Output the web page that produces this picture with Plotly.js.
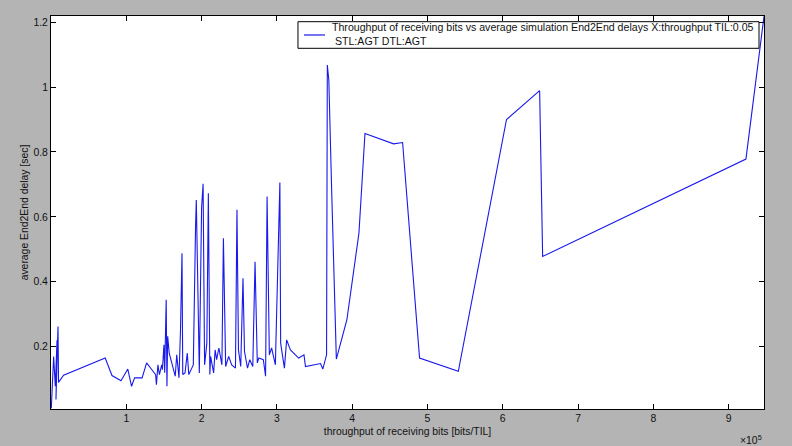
<!DOCTYPE html>
<html>
<head>
<meta charset="utf-8">
<script src="https://cdn.plot.ly/plotly-3.0.1.min.js"></script>
<style>html,body{margin:0;padding:0;background:#b4b4b4;}#chart{width:792px;height:446px;}</style>
</head>
<body>
<div id="chart"></div>
<script>
// throughput of receiving bits [bits/TIL]
const throughput = [
  400, 3500, 5700, 8000, 6600, 9300, 10000, 16700, 72000, 81000, 93000,
  102000, 107000, 111000, 121000, 127000, 134000, 139000, 140000, 142000, 144000,
  147000, 148000, 150000, 151000, 153000, 154000, 155000, 157000, 161000, 165000,
  167000, 170000, 172000, 174000, 175000, 178000, 181000, 183000, 187000, 189000,
  192000, 193000, 197000, 200000, 202000, 204000, 207000, 209000, 211000, 212000,
  216000, 218000, 220000, 223000, 227000, 229000, 232000, 236000, 240000, 245000,
  247000, 249000, 252000, 255000, 257000, 261000, 264000, 268000, 271000, 274000,
  276000, 282000, 285000, 287000, 290000, 293000, 298000, 304000, 305000, 310000,
  313000, 318000, 329000, 336000, 338000, 358000, 361000, 366000, 367000, 369000,
  373000, 375000, 379000, 393000, 409000, 417000, 455000, 467000, 489500, 541000,
  605000, 649000, 653000, 923000, 947000
];
// average End2End delay [sec]
const delay = [
  0.010, 0.170, 0.078, 0.220, 0.037, 0.262, 0.090, 0.112, 0.165, 0.111, 0.095,
  0.131, 0.078, 0.104, 0.104, 0.150, 0.129, 0.114, 0.083, 0.144, 0.114,
  0.144, 0.129, 0.206, 0.120, 0.345, 0.078, 0.232, 0.180, 0.144, 0.109,
  0.175, 0.104, 0.252, 0.488, 0.114, 0.119, 0.180, 0.114, 0.134, 0.144,
  0.570, 0.652, 0.119, 0.627, 0.702, 0.144, 0.211, 0.673, 0.114, 0.170,
  0.119, 0.190, 0.160, 0.196, 0.144, 0.534, 0.139, 0.170, 0.144, 0.134,
  0.622, 0.190, 0.139, 0.411, 0.185, 0.134, 0.160, 0.139, 0.462, 0.150,
  0.165, 0.160, 0.109, 0.663, 0.175, 0.196, 0.144, 0.706, 0.211, 0.134,
  0.221, 0.190, 0.165, 0.175, 0.139, 0.148, 0.131, 0.175, 1.068, 1.022,
  0.663, 0.478, 0.162, 0.283, 0.550, 0.857, 0.825, 0.829, 0.165, 0.124,
  0.900, 0.989, 0.478, 0.778, 1.218
];
const xTickVals = [100000, 200000, 300000, 400000, 500000, 600000, 700000, 800000, 900000];
const xTickText = ['1', '2', '3', '4', '5', '6', '7', '8', '9'];
const yTickVals = [0.2, 0.4, 0.6, 0.8, 1.0, 1.2];
const yTickText = ['0.2', '0.4', '0.6', '0.8', '1', '1.2'];
const legendLines = ['Throughput of receiving bits vs average simulation End2End delays X:throughput TIL:0.05', '&nbsp;STL:AGT DTL:AGT'];

const fam = 'Liberation Sans, Arial, Helvetica, sans-serif';
const font = {family: fam, size: 10.4, color: '#111'};
const lineColor = 'rgb(25,25,235)';

const trace = {
  x: throughput, y: delay, type: 'scatter', mode: 'lines',
  name: legendLines.join('<br>'),
  line: {color: lineColor, width: 1.1}
};

const axisCommon = {
  showgrid: false, zeroline: false, showline: true, linecolor: '#000', linewidth: 1,
  mirror: 'ticks', ticks: 'inside', ticklen: 5, tickcolor: '#000', tickwidth: 1,
  tickfont: font
};

// legend box geometry (paper fractions)
const lgX0 = 0.3464, lgX1 = 0.993, lgY0 = 0.9178, lgY1 = 0.9855, lgYm = 0.9517;

const layout = {
  width: 792, height: 446,
  margin: {l: 51, r: 28, t: 16, b: 37, pad: 0},
  paper_bgcolor: '#b4b4b4', plot_bgcolor: '#ffffff',
  font: font,
  showlegend: false,
  xaxis: Object.assign({}, axisCommon, {
    range: [0, 947000], tickvals: xTickVals, ticktext: xTickText,
    title: {text: 'throughput of receiving bits [bits/TIL]', font: font, standoff: 4}
  }),
  yaxis: Object.assign({}, axisCommon, {
    range: [0.008, 1.219], tickvals: yTickVals, ticktext: yTickText,
    title: {text: 'average End2End delay [sec]', font: font, standoff: 2}
  }),
  shapes: [
    {type: 'rect', xref: 'paper', yref: 'paper', x0: lgX0, x1: lgX1, y0: lgY0, y1: lgY1,
     fillcolor: '#ffffff', line: {color: '#000', width: 1}, layer: 'above'},
    {type: 'line', xref: 'paper', yref: 'paper', x0: 0.3548, x1: 0.3843, y0: lgYm, y1: lgYm,
     line: {color: lineColor, width: 1.2}, layer: 'above'}
  ],
  annotations: [
    {xref: 'paper', yref: 'paper', x: 0.3913, y: lgYm + 0.002, xanchor: 'left', yanchor: 'middle',
     align: 'left', text: legendLines.join('<br>'), showarrow: false,
     font: {family: fam, size: 10.6, color: '#111'}},
    {xref: 'paper', yref: 'paper', x: 0.982, y: -0.055, xanchor: 'center', yanchor: 'top',
     text: '×10<sup>5</sup>', showarrow: false, font: font}
  ]
};

Plotly.newPlot('chart', [trace], layout, {displayModeBar: false, staticPlot: true});
</script>
</body>
</html>
